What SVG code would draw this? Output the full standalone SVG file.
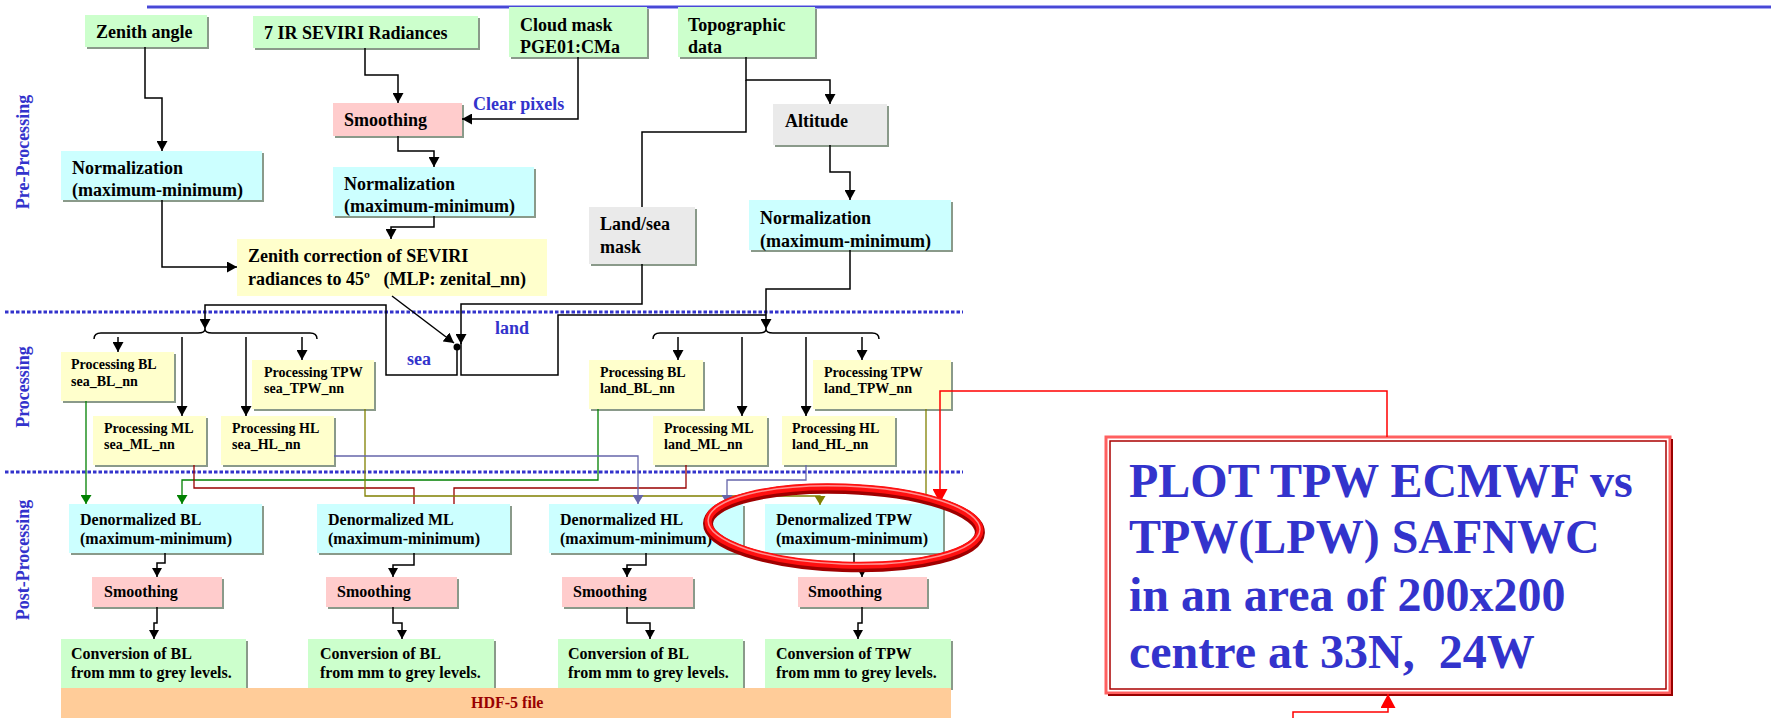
<svg xmlns="http://www.w3.org/2000/svg" width="1771" height="718" viewBox="0 0 1771 718">
<style>
.t{font-family:"Liberation Serif","Times New Roman",serif;font-weight:bold;fill:#000}
.f18{font-size:18px}.f16{font-size:16px}.f14{font-size:14px}
.blue{fill:#3333cc}
.g{fill:#ccffcc}.c{fill:#ccffff}.y{fill:#ffffcc}.p{fill:#ffcccc}.gr{fill:#eaeaea}
.sh{fill:#8a9a8a}
.k{fill:none;stroke:#000;stroke-width:1.5}
.dot{fill:none;stroke:#3333cc;stroke-width:3;stroke-dasharray:3.5 2}
</style>
<defs>
<marker id="ab" markerUnits="userSpaceOnUse" markerWidth="11" markerHeight="11" refX="10" refY="5.5" orient="auto"><path d="M0,0 L10,5.5 L0,11 z" fill="#000"/></marker>
<marker id="as" markerUnits="userSpaceOnUse" markerWidth="10" markerHeight="10" refX="9" refY="5" orient="auto"><path d="M0,0 L9,5 L0,10 z" fill="#000"/></marker>
<marker id="agn" markerUnits="userSpaceOnUse" markerWidth="10" markerHeight="11" refX="9" refY="5.5" orient="auto"><path d="M0,0 L9,5.5 L0,11 z" fill="#008000"/></marker>
<marker id="aol" markerUnits="userSpaceOnUse" markerWidth="10" markerHeight="11" refX="9" refY="5.5" orient="auto"><path d="M0,0 L9,5.5 L0,11 z" fill="#808000"/></marker>
<marker id="aol2" markerUnits="userSpaceOnUse" markerWidth="6" markerHeight="7" refX="5" refY="3.5" orient="auto"><path d="M0,0 L5,3.5 L0,7 z" fill="#808000"/></marker>
<marker id="asl" markerUnits="userSpaceOnUse" markerWidth="10" markerHeight="11" refX="9" refY="5.5" orient="auto"><path d="M0,0 L9,5.5 L0,11 z" fill="#6666aa"/></marker>
<marker id="ard" markerUnits="userSpaceOnUse" markerWidth="15" markerHeight="15" refX="14" refY="7.5" orient="auto"><path d="M0,0 L14,7.5 L0,15 z" fill="#ff0000"/></marker>
</defs>
<rect width="1771" height="718" fill="#fff"/>

<!-- decorations -->
<path d="M147,7 H1771" stroke="#8888ee" stroke-width="3.5"/>
<path d="M147,7 H1771" stroke="#3333cc" stroke-width="1.5"/>
<path class="dot" d="M5,312 H963"/>
<path class="dot" d="M5,472 H963"/>
<text class="t f18 blue" x="29" y="152" text-anchor="middle" transform="rotate(-90 29 152)">Pre-Processing</text>
<text class="t f18 blue" x="29" y="387" text-anchor="middle" transform="rotate(-90 29 387)">Processing</text>
<text class="t f18 blue" x="29" y="560" text-anchor="middle" transform="rotate(-90 29 560)">Post-Processing</text>
<text class="t f18 blue" x="473" y="110">Clear pixels</text>
<text class="t f18 blue" x="495" y="334">land</text>
<text class="t f18 blue" x="407" y="365">sea</text>

<!-- nodes: pre-processing -->
<g id="zenith"><rect class="sh" x="87" y="17" width="122" height="32"/><rect class="g" x="85" y="15" width="122" height="32"/><text class="t f18" x="96" y="38">Zenith angle</text></g>
<g id="ir"><rect class="sh" x="255" y="18" width="225" height="32"/><rect class="g" x="253" y="16" width="225" height="32"/><text class="t f18" x="264" y="39">7 IR SEVIRI Radiances</text></g>
<g id="cloud"><rect class="sh" x="511" y="9" width="138" height="50"/><rect class="g" x="509" y="7" width="138" height="50"/><text class="t f18" x="520" y="31">Cloud mask</text><text class="t f18" x="520" y="53">PGE01:CMa</text></g>
<g id="topo"><rect class="sh" x="680" y="9" width="137" height="50"/><rect class="g" x="678" y="7" width="137" height="50"/><text class="t f18" x="688" y="31">Topographic</text><text class="t f18" x="688" y="53">data</text></g>
<g id="smooth0"><rect class="sh" x="335" y="105" width="129" height="33"/><rect class="p" x="333" y="103" width="129" height="33"/><text class="t f18" x="344" y="126">Smoothing</text></g>
<g id="norm1"><rect class="sh" x="63" y="153" width="201" height="49"/><rect class="c" x="61" y="151" width="201" height="49"/><text class="t f18" x="72" y="174">Normalization</text><text class="t f18" x="72" y="196">(maximum-minimum)</text></g>
<g id="norm2"><rect class="sh" x="335" y="169" width="201" height="49"/><rect class="c" x="333" y="167" width="201" height="49"/><text class="t f18" x="344" y="190">Normalization</text><text class="t f18" x="344" y="212">(maximum-minimum)</text></g>
<g id="zencorr"><rect class="y" x="237" y="239" width="310" height="57"/><text class="t f18" x="248" y="262">Zenith correction of SEVIRI</text><text class="t f18" x="248" y="285">radiances to 45º &#160; (MLP: zenital_nn)</text></g>
<g id="landsea"><rect class="sh" x="591" y="209" width="106" height="57"/><rect class="gr" x="589" y="207" width="106" height="57"/><text class="t f18" x="600" y="230">Land/sea</text><text class="t f18" x="600" y="253">mask</text></g>
<g id="altitude"><rect class="sh" x="775" y="106" width="114" height="41"/><rect class="gr" x="773" y="104" width="114" height="41"/><text class="t f18" x="785" y="127">Altitude</text></g>
<g id="norm3"><rect class="sh" x="751" y="202" width="202" height="50"/><rect class="c" x="749" y="200" width="202" height="50"/><text class="t f18" x="760" y="224">Normalization</text><text class="t f18" x="760" y="247">(maximum-minimum)</text></g>

<!-- nodes: processing -->
<g id="pBLs"><rect class="sh" x="63" y="354" width="113" height="49"/><rect class="y" x="61" y="352" width="113" height="49"/><text class="t f14" x="71" y="369">Processing  BL</text><text class="t f14" x="71" y="386">sea_BL_nn</text></g>
<g id="pMLs"><rect class="sh" x="95" y="418" width="113" height="49"/><rect class="y" x="93" y="416" width="113" height="49"/><text class="t f14" x="104" y="433">Processing  ML</text><text class="t f14" x="104" y="449">sea_ML_nn</text></g>
<g id="pHLs"><rect class="sh" x="223" y="418" width="113" height="49"/><rect class="y" x="221" y="416" width="113" height="49"/><text class="t f14" x="232" y="433">Processing  HL</text><text class="t f14" x="232" y="449">sea_HL_nn</text></g>
<g id="pTPWs"><rect class="sh" x="254" y="362" width="122" height="49"/><rect class="y" x="252" y="360" width="122" height="49"/><text class="t f14" x="264" y="377">Processing TPW</text><text class="t f14" x="264" y="393">sea_TPW_nn</text></g>
<g id="pBLl"><rect class="sh" x="591" y="362" width="114" height="49"/><rect class="y" x="589" y="360" width="114" height="49"/><text class="t f14" x="600" y="377">Processing  BL</text><text class="t f14" x="600" y="393">land_BL_nn</text></g>
<g id="pMLl"><rect class="sh" x="655" y="418" width="114" height="49"/><rect class="y" x="653" y="416" width="114" height="49"/><text class="t f14" x="664" y="433">Processing  ML</text><text class="t f14" x="664" y="449">land_ML_nn</text></g>
<g id="pHLl"><rect class="sh" x="784" y="418" width="113" height="49"/><rect class="y" x="782" y="416" width="113" height="49"/><text class="t f14" x="792" y="433">Processing  HL</text><text class="t f14" x="792" y="449">land_HL_nn</text></g>
<g id="pTPWl"><rect class="sh" x="815" y="362" width="138" height="49"/><rect class="y" x="813" y="360" width="138" height="49"/><text class="t f14" x="824" y="377">Processing  TPW</text><text class="t f14" x="824" y="393">land_TPW_nn</text></g>

<!-- nodes: post-processing -->
<g id="dBL"><rect class="sh" x="71" y="506" width="193" height="49"/><rect class="c" x="69" y="504" width="193" height="49"/><text class="t f16" x="80" y="525">Denormalized BL</text><text class="t f16" x="80" y="544">(maximum-minimum)</text></g>
<g id="dML"><rect class="sh" x="319" y="506" width="193" height="49"/><rect class="c" x="317" y="504" width="193" height="49"/><text class="t f16" x="328" y="525">Denormalized ML</text><text class="t f16" x="328" y="544">(maximum-minimum)</text></g>
<g id="dHL"><rect class="sh" x="551" y="506" width="194" height="49"/><rect class="c" x="549" y="504" width="194" height="49"/><text class="t f16" x="560" y="525">Denormalized HL</text><text class="t f16" x="560" y="544">(maximum-minimum)</text></g>
<g id="dTPW"><rect class="sh" x="767" y="506" width="178" height="49"/><rect class="c" x="765" y="504" width="178" height="49"/><text class="t f16" x="776" y="525">Denormalized TPW</text><text class="t f16" x="776" y="544">(maximum-minimum)</text></g>
<g id="sBL"><rect class="sh" x="94" y="579" width="130" height="30"/><rect class="p" x="92" y="577" width="130" height="30"/><text class="t f16" x="104" y="597">Smoothing</text></g>
<g id="sML"><rect class="sh" x="328" y="579" width="131" height="30"/><rect class="p" x="326" y="577" width="131" height="30"/><text class="t f16" x="337" y="597">Smoothing</text></g>
<g id="sHL"><rect class="sh" x="564" y="579" width="131" height="30"/><rect class="p" x="562" y="577" width="131" height="30"/><text class="t f16" x="573" y="597">Smoothing</text></g>
<g id="sTPW"><rect class="sh" x="800" y="579" width="129" height="30"/><rect class="p" x="798" y="577" width="129" height="30"/><text class="t f16" x="808" y="597">Smoothing</text></g>
<g id="cBL1"><rect class="sh" x="63" y="641" width="185" height="49"/><rect class="g" x="61" y="639" width="185" height="49"/><text class="t f16" x="71" y="659">Conversion of  BL</text><text class="t f16" x="71" y="678">from mm to grey levels.</text></g>
<g id="cBL2"><rect class="sh" x="310" y="641" width="186" height="49"/><rect class="g" x="308" y="639" width="186" height="49"/><text class="t f16" x="320" y="659">Conversion of  BL</text><text class="t f16" x="320" y="678">from mm to grey levels.</text></g>
<g id="cBL3"><rect class="sh" x="560" y="641" width="185" height="49"/><rect class="g" x="558" y="639" width="185" height="49"/><text class="t f16" x="568" y="659">Conversion of  BL</text><text class="t f16" x="568" y="678">from mm to grey levels.</text></g>
<g id="cTPW"><rect class="sh" x="767" y="641" width="186" height="49"/><rect class="g" x="765" y="639" width="186" height="49"/><text class="t f16" x="776" y="659">Conversion of  TPW</text><text class="t f16" x="776" y="678">from mm to grey levels.</text></g>
<g id="hdf"><rect x="61" y="688" width="890" height="30" fill="#ffcc99"/><text class="t f16" x="471" y="708" fill="#990000" style="fill:#990000">HDF-5 file</text></g>

<!-- big note box -->
<g id="note">
<rect x="1106" y="437" width="564" height="256" fill="#fff" stroke="#ff6060" stroke-width="3"/>
<rect x="1110" y="441" width="556" height="248" fill="none" stroke="#aa0000" stroke-width="1.5"/>
<path d="M1672,439 V695 H1108" fill="none" stroke="#990000" stroke-width="2"/>
<text class="t blue" style="font-size:48px" x="1129" y="497">PLOT TPW ECMWF vs</text>
<text class="t blue" style="font-size:48px" x="1129" y="553">TPW(LPW) SAFNWC</text>
<text class="t blue" style="font-size:48px" x="1129" y="611">in an area of 200x200</text>
<text class="t blue" style="font-size:48px" x="1129" y="668" xml:space="preserve">centre at 33N,  24W</text>
</g>

<!-- connectors -->
<g id="connectors">
<path class="k" d="M145,47 V98 H162 V151" marker-end="url(#ab)"/>
<path class="k" d="M162,200 V267 H237" marker-end="url(#ab)"/>
<path class="k" d="M365,48 V75 H398 V103" marker-end="url(#ab)"/>
<path class="k" d="M578,57 V119 H462" marker-end="url(#ab)"/>
<path class="k" d="M398,136 V151 H434 V167" marker-end="url(#ab)"/>
<path class="k" d="M434,216 V227 H391 V239" marker-end="url(#ab)"/>
<path class="k" d="M746,57 V80 H830 V104" marker-end="url(#ab)"/>
<path class="k" d="M746,80 V132 H642 V207"/>
<path class="k" d="M830,145 V172 H850 V200" marker-end="url(#ab)"/>
<path class="k" d="M850,250 V289 H766 V329" marker-end="url(#ab)"/>
<path class="k" d="M642,264 V304 H461 V344" marker-end="url(#ab)"/>
<path class="k" d="M392,296 L454,343" marker-end="url(#ab)"/>
<circle cx="457" cy="347" r="3.5" fill="#000"/>
<path class="k" d="M457,347 V375 H386 V305 H205 V329" marker-end="url(#ab)"/>
<path class="k" d="M461,343 V375 H558 V315 H766"/>
<path class="k" d="M94,339 Q94,333 101,333 H198 Q205,333 205,329 Q205,333 212,333 H310 Q317,333 317,339"/>
<path class="k" d="M653,339 Q653,333 660,333 H759 Q766,333 766,329 Q766,333 773,333 H872 Q879,333 879,339"/>
<path class="k" d="M118,337 V352" marker-end="url(#ab)"/>
<path class="k" d="M182,337 V416" marker-end="url(#ab)"/>
<path class="k" d="M246,337 V416" marker-end="url(#ab)"/>
<path class="k" d="M302,337 V360" marker-end="url(#ab)"/>
<path class="k" d="M678,337 V360" marker-end="url(#ab)"/>
<path class="k" d="M742,337 V416" marker-end="url(#ab)"/>
<path class="k" d="M806,337 V416" marker-end="url(#ab)"/>
<path class="k" d="M862,337 V360" marker-end="url(#ab)"/>
<path d="M86,401 V504" fill="none" stroke="#008000" stroke-width="1.3" marker-end="url(#agn)"/>
<path d="M598,409 V480 H182 V504" fill="none" stroke="#008000" stroke-width="1.3" marker-end="url(#agn)"/>
<path d="M194,465 V488 H414 V504" fill="none" stroke="#990000" stroke-width="1.3"/>
<path d="M686,465 V488 H454 V504" fill="none" stroke="#990000" stroke-width="1.3"/>
<path d="M365,409 V496 H820 V505" fill="none" stroke="#808000" stroke-width="1.3" marker-end="url(#aol)"/>
<path d="M926,409 V504" fill="none" stroke="#808000" stroke-width="1.3" marker-end="url(#aol2)"/>
<path d="M334,456 H638 V504" fill="none" stroke="#6666aa" stroke-width="1.3" marker-end="url(#asl)"/>
<path d="M806,465 V480 H727 V504" fill="none" stroke="#6666aa" stroke-width="1.3" marker-end="url(#asl)"/>
<path class="k" d="M165,553 V563 H157 V577" marker-end="url(#as)"/>
<path class="k" d="M157,607 V623 H154 V639" marker-end="url(#as)"/>
<path class="k" d="M414,553 V565 H393 V577" marker-end="url(#as)"/>
<path class="k" d="M393,607 V623 H402 V639" marker-end="url(#as)"/>
<path class="k" d="M646,553 V565 H627 V577" marker-end="url(#as)"/>
<path class="k" d="M627,607 V623 H650 V639" marker-end="url(#as)"/>
<path class="k" d="M854,553 V565 H862 V577" marker-end="url(#as)"/>
<path class="k" d="M862,607 V623 H858 V639" marker-end="url(#as)"/>
<path d="M1387,437 V391 H940 V503" fill="none" stroke="#ff0000" stroke-width="1.5" marker-end="url(#ard)"/>
<path d="M1293,718 V712 H1388 V694" fill="none" stroke="#ff0000" stroke-width="1.5" marker-end="url(#ard)"/>
</g>

<!-- red ellipse highlight -->
<g id="ellipse" transform="rotate(2 844 527)">
<ellipse cx="844" cy="528" rx="136" ry="39" fill="none" stroke="#a00000" stroke-width="10"/>
<ellipse cx="844" cy="526" rx="136" ry="39" fill="none" stroke="#ff1010" stroke-width="7"/>
<ellipse cx="844" cy="525" rx="136" ry="39" fill="none" stroke="#ff9090" stroke-width="1.5"/>
</g>
</svg>
